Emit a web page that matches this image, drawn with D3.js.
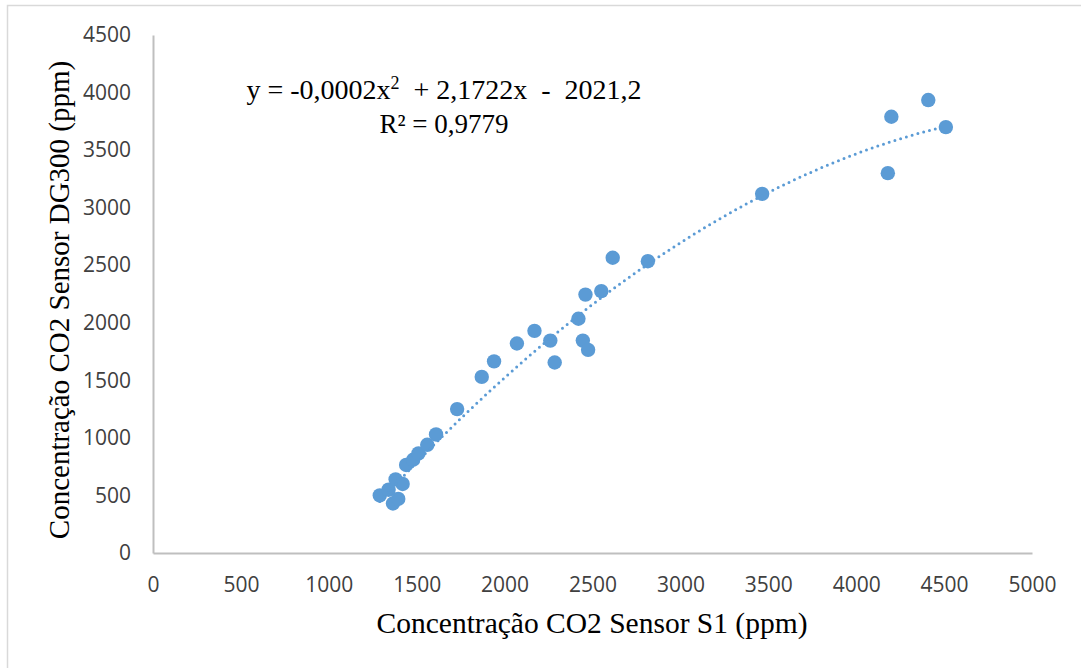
<!DOCTYPE html>
<meta charset="utf-8">
<style>
body { margin:0; background:white; }
.tick text { font-family:"Open Sans", sans-serif; font-size:21px; fill:#404040; }
.ttl { font-family:"Liberation Serif", serif; fill:#000; white-space:pre; }
</style>
<script src="https://d3js.org/d3.v7.min.js"></script>
<div id="chart"></div>
<script>
// readings, S1 sensor vs DG300 sensor (ppm)
var s1    = [1290,1340,1380,1420,1365,1395,1440,1480,1510,1560,1610,1730,1870,1940,2070,2170,2260,2285,2420,2445,2475,2460,2550,2615,2815,3465,4410,4200,4510,4180];
var dg300 = [500,550,640,600,430,470,765,810,865,940,1030,1250,1530,1665,1820,1930,1845,1655,2035,1845,1765,2245,2275,2565,2535,3120,3935,3790,3700,3300];
var xTicks = [0,500,1000,1500,2000,2500,3000,3500,4000,4500,5000];
var yTicks = [0,500,1000,1500,2000,2500,3000,3500,4000,4500];
// polynomial trendline printed on the chart: a*x^2 + b*x + c
var coef = [-0.0002, 2.1722, -2021.2];

var W = 1081, H = 668;
var svg = d3.select("#chart").append("svg").attr("width", W).attr("height", H);

// chart border
svg.append("rect").attr("x", 7.5).attr("y", 5.5).attr("width", 1100).attr("height", 700)
  .attr("fill", "none").attr("stroke", "#d9d9d9").attr("stroke-width", 1.5);

var x = d3.scaleLinear().domain([0, 5000]).range([153, 1032]);
var y = d3.scaleLinear().domain([0, 4500]).range([553, 35]);

svg.append("g").attr("transform", "translate(0,553)")
  .call(d3.axisBottom(x).tickValues(xTicks).tickFormat(d3.format("d")).tickSize(0).tickPadding(24));
svg.append("g").attr("transform", "translate(153,0)")
  .call(d3.axisLeft(y).tickValues(yTicks).tickFormat(d3.format("d")).tickSize(0).tickPadding(22));
svg.selectAll(".domain").attr("stroke", "#bfbfbf").attr("stroke-width", 2);

// trendline
var xmin = d3.min(s1), xmax = d3.max(s1);
var trend = d3.range(xmin, xmax, 10).concat([xmax]).map(function(v) {
  return [v, coef[0] * v * v + coef[1] * v + coef[2]];
});

var pts = s1.map(function(v, i) { return [v, dg300[i]]; });
svg.append("g").selectAll("circle").data(pts).enter().append("circle")
  .attr("cx", function(d) { return x(d[0]); })
  .attr("cy", function(d) { return y(d[1]); })
  .attr("r", 7.2)
  .attr("fill", "#5b9bd5");

svg.append("path").datum(trend)
  .attr("d", d3.line().x(function(d) { return x(d[0]); }).y(function(d) { return y(d[1]); }))
  .attr("fill", "none").attr("stroke", "#5b9bd5").attr("stroke-width", 3)
  .attr("stroke-linecap", "round").attr("stroke-dasharray", "0,6");

// equation label
var eq = svg.append("text").attr("class", "ttl").attr("x", 444).attr("y", 99)
  .attr("text-anchor", "middle").style("font-size", "28px");
eq.append("tspan").text("y = -0,0002x");
eq.append("tspan").attr("dy", -10).style("font-size", "18px").text("2");
eq.append("tspan").attr("dy", 10).text("  + 2,1722x  -  2021,2");
svg.append("text").attr("class", "ttl").attr("x", 444).attr("y", 133)
  .attr("text-anchor", "middle").style("font-size", "27px").text("R² = 0,9779");

// axis titles
svg.append("text").attr("class", "ttl").attr("x", 592).attr("y", 633)
  .attr("text-anchor", "middle").style("font-size", "29.5px")
  .text("Concentração CO2 Sensor S1 (ppm)");
svg.append("text").attr("class", "ttl")
  .attr("transform", "translate(69,300) rotate(-90)")
  .attr("text-anchor", "middle").style("font-size", "29px")
  .text("Concentração CO2 Sensor DG300 (ppm)");
</script>
